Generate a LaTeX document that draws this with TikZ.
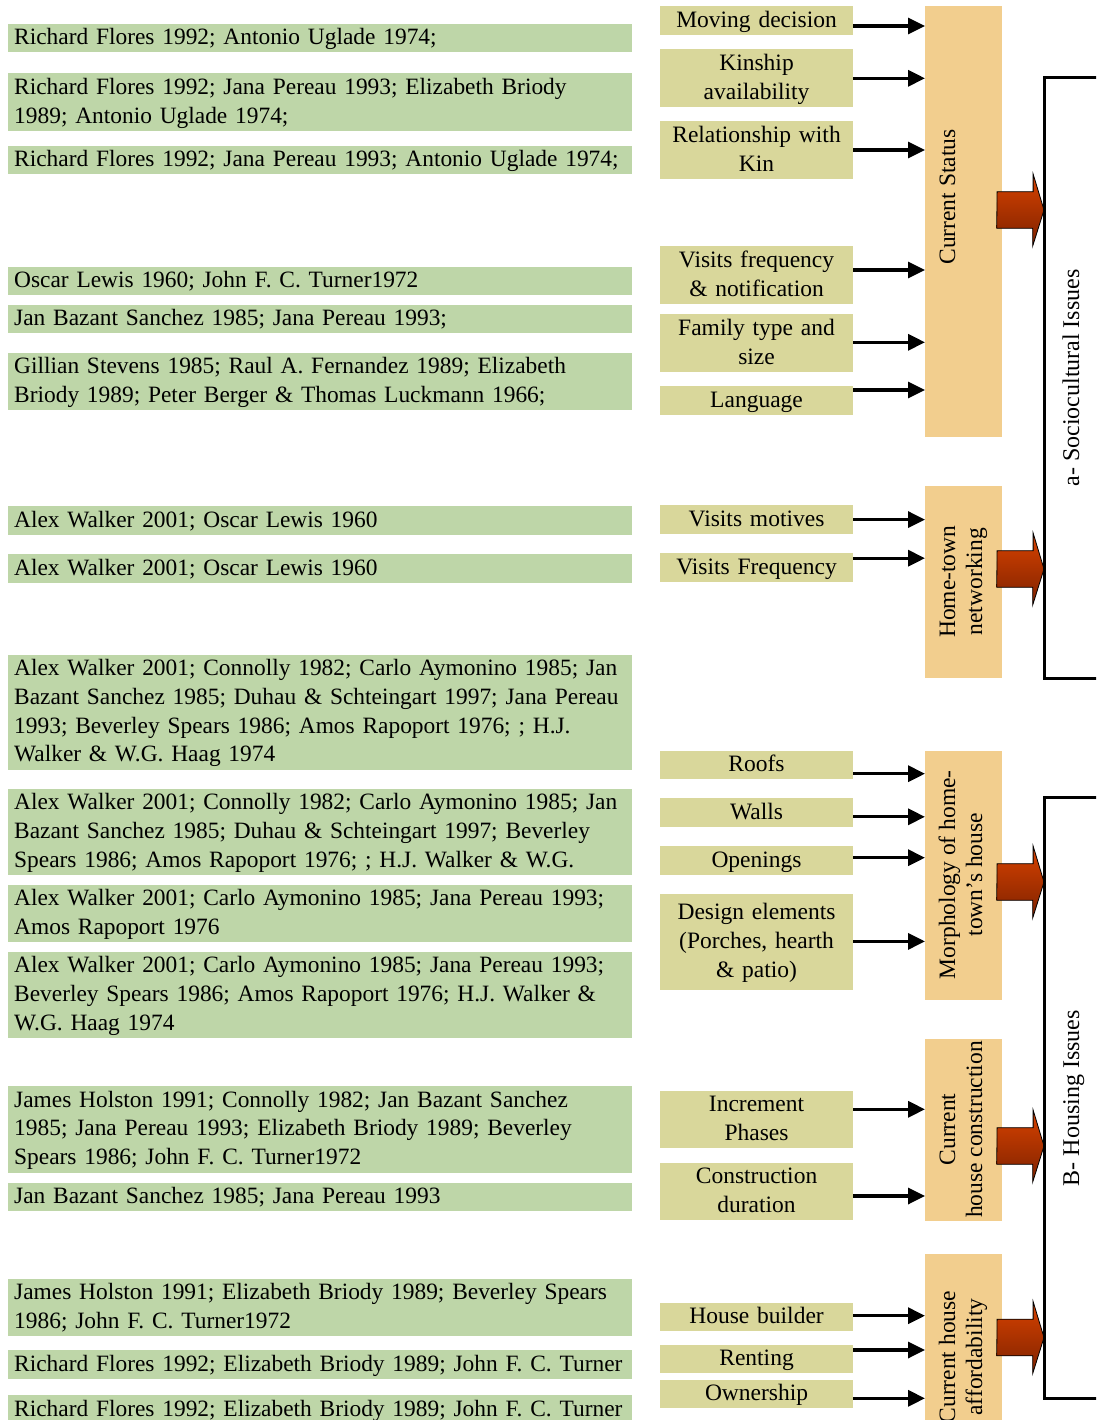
\documentclass[tikz,border=0pt]{standalone}
\usepackage{fontspec}
\setmainfont{Liberation Serif}
\usetikzlibrary{arrows.meta}
\definecolor{lgreen}{HTML}{BED6A8}
\definecolor{khaki}{HTML}{D9D79B}
\definecolor{orng}{HTML}{F2CE8E}
\definecolor{redtop}{HTML}{D84200}
\definecolor{redbot}{HTML}{7E2200}
\newcommand\Ls{\rule[-7.75pt]{0pt}{28.75pt}}
\newcommand\LL[1]{\mbox{\Ls #1}}
\newcommand\Rs{\rule[-6pt]{0pt}{27pt}}
\newcommand\conn[3]{\coordinate (k#1) at (0,#3); \draw[arr] (#1.east |- k#1) -- (#2.west |- k#1);}
\newcommand\redarr[2]{\coordinate (r#1) at (1044,#2);
  \shadedraw[top color=redtop, bottom color=redbot, draw=black, line width=0.8pt]
  ([xshift=-5pt]#1.east |- r#1) ++(0,-18.3) -- ++(36,0) -- ++(0,-17.7) -- (r#1) -- ++(-11.3,36) -- ++(0,-17.7) -- ++(-36,0) -- cycle;}
\begin{document}
\begin{tikzpicture}[x=1pt,y=-1pt,
  refbox/.style={fill=lgreen, anchor=north west, minimum width=624pt, text width=612pt,
    inner xsep=6pt, inner ysep=0pt, align=left, font=\fontsize{23.4}{28.75}\selectfont},
  midbox/.style={fill=khaki, anchor=north west, minimum width=192.7pt, text width=186pt,
    inner xsep=3.35pt, inner ysep=0pt, align=center, font=\fontsize{23.5}{28.75}\selectfont},
  obox/.style={fill=orng, anchor=north west, minimum width=76.7pt, inner sep=0pt},
  otext/.style={rotate=90, anchor=north, inner sep=0pt, align=center, font=\fontsize{23.5}{27}\selectfont},
  arr/.style={line width=3.3pt, -{Triangle[length=17pt,width=16pt]}},
  lab/.style={rotate=90, anchor=base, inner sep=0pt, font=\fontsize{24}{28}\selectfont}]
\path[use as bounding box, clip] (0,0) rectangle (1096,1420);
\fill[white] (0,0) rectangle (1096,1420);

% left reference boxes
\node[refbox, minimum height=28.5pt] (l1) at (8,23.5) {\LL{Richard Flores 1992; Antonio Uglade 1974;}};
\node[refbox, minimum height=57.4pt] (l2) at (8,73.3) {\LL{Richard Flores 1992; Jana Pereau 1993; Elizabeth Briody}\\\LL{1989; Antonio Uglade 1974;}};
\node[refbox, minimum height=28.5pt] (l3) at (8,145.5) {\LL{Richard Flores 1992; Jana Pereau 1993; Antonio Uglade 1974;}};
\node[refbox, minimum height=28.3pt] (l4) at (8,266.5) {\LL{Oscar Lewis 1960; John F. C. Turner1972}};
\node[refbox, minimum height=28.3pt] (l5) at (8,304.5) {\LL{Jan Bazant Sanchez 1985; Jana Pereau 1993;}};
\node[refbox, minimum height=57.4pt] (l6) at (8,352.3) {\LL{Gillian Stevens 1985; Raul A. Fernandez 1989; Elizabeth}\\\LL{Briody 1989; Peter Berger \& Thomas Luckmann 1966;}};
\node[refbox, minimum height=28.5pt] (l7) at (8,506) {\LL{Alex Walker 2001; Oscar Lewis 1960}};
\node[refbox, minimum height=28.5pt] (l8) at (8,554) {\LL{Alex Walker 2001; Oscar Lewis 1960}};
\node[refbox, minimum height=115pt] (l9) at (8,654.5) {\LL{Alex Walker 2001; Connolly 1982; Carlo Aymonino 1985; Jan}\\\LL{Bazant Sanchez 1985; Duhau \& Schteingart 1997; Jana Pereau}\\\LL{1993; Beverley Spears 1986; Amos Rapoport 1976; ; H.J.}\\\LL{Walker \& W.G. Haag 1974}};
\node[refbox, minimum height=86.4pt] (l10) at (8,788.3) {\LL{Alex Walker 2001; Connolly 1982; Carlo Aymonino 1985; Jan}\\\LL{Bazant Sanchez 1985; Duhau \& Schteingart 1997; Beverley}\\\LL{Spears 1986; Amos Rapoport 1976; ; H.J. Walker \& W.G.}};
\node[refbox, minimum height=57pt] (l11) at (8,884.3) {\LL{Alex Walker 2001; Carlo Aymonino 1985; Jana Pereau 1993;}\\\LL{Amos Rapoport 1976}};
\node[refbox, minimum height=85.5pt] (l12) at (8,951.7) {\LL{Alex Walker 2001; Carlo Aymonino 1985; Jana Pereau 1993;}\\\LL{Beverley Spears 1986; Amos Rapoport 1976; H.J. Walker \&}\\\LL{W.G. Haag 1974}};
\node[refbox, minimum height=86.3pt] (l13) at (8,1086) {\LL{James Holston 1991; Connolly 1982; Jan Bazant Sanchez}\\\LL{1985; Jana Pereau 1993; Elizabeth Briody 1989; Beverley}\\\LL{Spears 1986; John F. C. Turner1972}};
\node[refbox, minimum height=28pt] (l14) at (8,1182.3) {\LL{Jan Bazant Sanchez 1985; Jana Pereau 1993}};
\node[refbox, minimum height=57.4pt] (l15) at (8,1278.3) {\LL{James Holston 1991; Elizabeth Briody 1989; Beverley Spears}\\\LL{1986; John F. C. Turner1972}};
\node[refbox, minimum height=28.7pt] (l16) at (8,1350) {\LL{Richard Flores 1992; Elizabeth Briody 1989; John F. C. Turner}};
\node[refbox, minimum height=28.7pt] (l17) at (8,1395) {\LL{Richard Flores 1992; Elizabeth Briody 1989; John F. C. Turner}};

% middle factor boxes
\node[midbox, minimum height=28.7pt] (md) at (660,6) {\Ls Moving decision};
\node[midbox, minimum height=57.7pt] (ka) at (660,49) {\Ls Kinship\\\Ls availability};
\node[midbox, minimum height=57.7pt] (rk) at (660,121) {\Ls Relationship with\\\Ls Kin};
\node[midbox, minimum height=57.7pt] (vf) at (660,246) {\Ls Visits frequency\\\Ls \& notification};
\node[midbox, minimum height=57.7pt] (ft) at (660,314) {\Ls Family type and\\\Ls size};
\node[midbox, minimum height=28.7pt] (la) at (660,386) {\Ls Language};
\node[midbox, minimum height=28.6pt] (vm) at (660,505) {\Ls Visits motives};
\node[midbox, minimum height=28.6pt] (vq) at (660,553) {\Ls Visits Frequency};
\node[midbox, minimum height=28pt] (ro) at (660,750.3) {\Ls Roofs};
\node[midbox, minimum height=28.6pt] (wa) at (660,797.8) {\Ls Walls};
\node[midbox, minimum height=28.5pt] (op) at (660,846) {\Ls Openings};
\node[midbox, minimum height=95.6pt] (de) at (660,894) {\Ls Design elements\\\Ls (Porches, hearth\\\Ls \& patio)};
\node[midbox, minimum height=57.4pt] (ip) at (660,1090.3) {\Ls Increment\\\Ls Phases};
\node[midbox, minimum height=57.4pt] (cd) at (660,1162.3) {\Ls Construction\\\Ls duration};
\node[midbox, minimum height=28.4pt] (hb) at (660,1302.3) {\Ls House builder};
\node[midbox, minimum height=28.4pt] (re) at (660,1344.3) {\Ls Renting};
\node[midbox, minimum height=28.4pt] (ow) at (660,1379.3) {\Ls Ownership};

% orange category boxes
\node[obox, minimum height=431pt] (cs) at (925,6) {};
\node[obox, minimum height=191.8pt] (hn) at (925,485.9) {};
\node[obox, minimum height=249pt] (mo) at (925,750.3) {};
\node[obox, minimum height=182.4pt] (hc) at (925,1038.3) {};
\node[obox, minimum height=210pt] (ha) at (925,1254) {};

\node[otext] (cst) at (934,197) {\Rs Current Status};
\node[otext] (hnt) at (934,581.7) {\Rs Home-town\\\Rs networking};
\node[otext] (mot) at (934,874.7) {\Rs Morphology of home-\\\Rs town’s house};
\node[otext] (hct) at (934,1129.5) {\Rs Current\\\Rs house construction};
\node[otext] (hat) at (934,1357) {\Rs Current house\\\Rs affordability};

% connectors
\conn{md}{cs}{26}
\conn{ka}{cs}{78.3}
\conn{rk}{cs}{150}
\conn{vf}{cs}{270}
\conn{ft}{cs}{342.3}
\conn{la}{cs}{390}
\conn{vm}{hn}{519.6}
\conn{vq}{hn}{558.2}
\conn{ro}{mo}{773.7}
\conn{wa}{mo}{816.8}
\conn{op}{mo}{857.7}
\conn{de}{mo}{941.4}
\conn{ip}{hc}{1109.3}
\conn{cd}{hc}{1196}
\conn{hb}{ha}{1315.7}
\conn{re}{ha}{1350}
\conn{ow}{ha}{1398.3}

% block arrows
\redarr{cs}{210}
\redarr{hn}{569}
\redarr{mo}{882}
\redarr{hc}{1146}
\redarr{ha}{1337.5}

% brackets
\coordinate (ba1) at (1100,78);
\coordinate (ba2) at (1044,78);
\coordinate (ba3) at (1044,678);
\coordinate (ba4) at (1100,678);
\draw[line width=3pt] (ba1) -- (ba2) -- (ba3) -- (ba4);
\coordinate (bb1) at (1100,797.5);
\coordinate (bb2) at (1044,797.5);
\coordinate (bb3) at (1044,1398.3);
\coordinate (bb4) at (1100,1398.3);
\draw[line width=3pt] (bb1) -- (bb2) -- (bb3) -- (bb4);

\node[lab] (la1) at (1079,378) {a- Sociocultural Issues};
\node[lab] (la2) at (1079,1098) {B- Housing Issues};
\end{tikzpicture}
\end{document}
